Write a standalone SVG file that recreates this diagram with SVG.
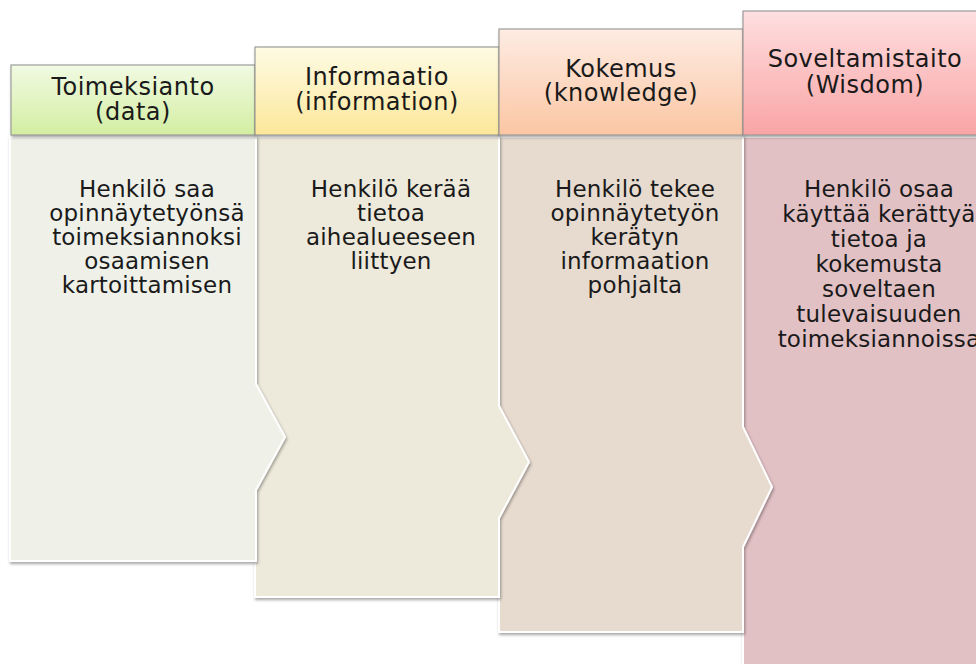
<svg xmlns="http://www.w3.org/2000/svg" width="976" height="664" viewBox="0 0 976 664">
<defs>
<filter id="sh" x="-10%" y="-10%" width="130%" height="130%">
<feDropShadow dx="1" dy="2" stdDeviation="1.6" flood-color="#000" flood-opacity="0.35"/>
</filter>
<linearGradient id="g1" x1="0" y1="0" x2="0" y2="1"><stop offset="0" stop-color="#f1fae3"/><stop offset="1" stop-color="#d3eea2"/></linearGradient>
<linearGradient id="g2" x1="0" y1="0" x2="0" y2="1"><stop offset="0" stop-color="#fefbe4"/><stop offset="1" stop-color="#fce79a"/></linearGradient>
<linearGradient id="g3" x1="0" y1="0" x2="0" y2="1"><stop offset="0" stop-color="#feece3"/><stop offset="1" stop-color="#fbc6a3"/></linearGradient>
<linearGradient id="g4" x1="0" y1="0" x2="0" y2="1"><stop offset="0" stop-color="#fedfe0"/><stop offset="1" stop-color="#f9a4a5"/></linearGradient>
</defs>
<style>
.body{stroke:#ffffff;stroke-width:2;filter:url(#sh);}
.hdr{stroke:#8c8c8c;stroke-width:1;filter:url(#sh);}
text{font-family:"DejaVu Sans","Liberation Sans",sans-serif;fill:#1a1a1a;text-anchor:middle;}
.ht{font-size:24px;letter-spacing:0.5px;}
.bt{font-size:23px;letter-spacing:0.2px;}
</style>

<g id="panel4-body">
<path class="body" fill="#e2c1c5" d="M743,137 H987 V690 H743 Z"/>
</g>
<g id="panel3-body">
<path class="body" fill="#e7dbd0" d="M499,137 H743 V427 L772,487 L743,547 V632 H499 Z"/>
</g>
<g id="panel2-body">
<path class="body" fill="#ede9db" d="M255,137 H499 V406 L529,462 L499,518 V597 H255 Z"/>
</g>
<g id="panel1-body">
<path class="body" fill="#eff1e9" d="M10,137 H256 V384 L285,437 L256,490 V561 H10 Z"/>
</g>

<g id="panel1-header">
<rect class="hdr" x="11" y="65" width="244" height="70" fill="url(#g1)"/>
<text class="ht" x="133" y="95">Toimeksianto</text>
<text class="ht" x="133" y="120">(data)</text>
</g>
<g id="panel2-header">
<rect class="hdr" x="255" y="47" width="244" height="88" fill="url(#g2)"/>
<text class="ht" x="377" y="85">Informaatio</text>
<text class="ht" x="377" y="110">(information)</text>
</g>
<g id="panel3-header">
<rect class="hdr" x="499" y="29" width="244" height="106" fill="url(#g3)"/>
<text class="ht" x="621" y="77">Kokemus</text>
<text class="ht" x="621" y="101">(knowledge)</text>
</g>
<g id="panel4-header">
<rect class="hdr" x="743" y="11" width="244" height="124" fill="url(#g4)"/>
<text class="ht" x="865" y="67">Soveltamistaito</text>
<text class="ht" x="865" y="93">(Wisdom)</text>
</g>

<g id="panel1-text">
<text class="bt" x="147" y="197">Henkilö saa</text>
<text class="bt" x="147" y="221">opinnäytetyönsä</text>
<text class="bt" x="147" y="245">toimeksiannoksi</text>
<text class="bt" x="147" y="269">osaamisen</text>
<text class="bt" x="147" y="293">kartoittamisen</text>
</g>
<g id="panel2-text">
<text class="bt" x="391" y="197">Henkilö kerää</text>
<text class="bt" x="391" y="221">tietoa</text>
<text class="bt" x="391" y="245">aihealueeseen</text>
<text class="bt" x="391" y="269">liittyen</text>
</g>
<g id="panel3-text">
<text class="bt" x="635" y="197">Henkilö tekee</text>
<text class="bt" x="635" y="221">opinnäytetyön</text>
<text class="bt" x="635" y="245">kerätyn</text>
<text class="bt" x="635" y="269">informaation</text>
<text class="bt" x="635" y="293">pohjalta</text>
</g>
<g id="panel4-text">
<text class="bt" x="879" y="197">Henkilö osaa</text>
<text class="bt" x="879" y="222">käyttää kerättyä</text>
<text class="bt" x="879" y="247">tietoa ja</text>
<text class="bt" x="879" y="272">kokemusta</text>
<text class="bt" x="879" y="297">soveltaen</text>
<text class="bt" x="879" y="322">tulevaisuuden</text>
<text class="bt" x="879" y="347">toimeksiannoissa</text>
</g>
</svg>
